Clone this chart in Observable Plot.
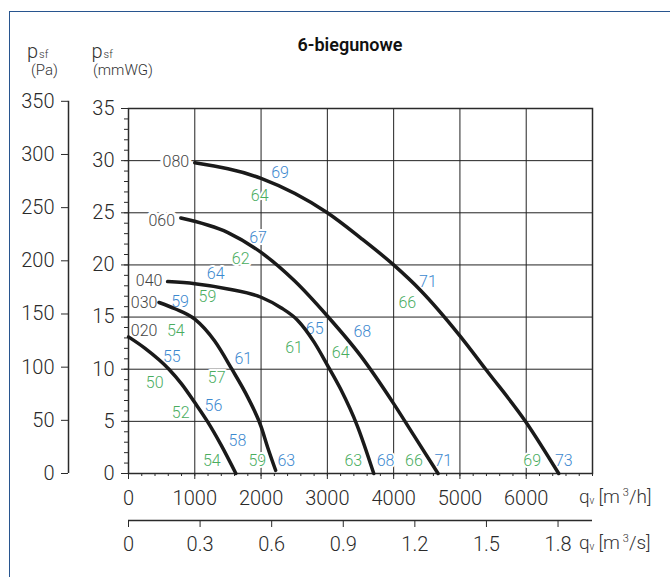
<!DOCTYPE html>
<html><head><meta charset="utf-8">
<script src="https://cdn.jsdelivr.net/npm/d3@7"></script>
<script src="https://cdn.jsdelivr.net/npm/@observablehq/plot@0.6"></script>
<style>
html,body{margin:0;padding:0;background:#fff;}
#wrap{position:relative;width:670px;height:577px;overflow:hidden;}
#border{position:absolute;left:9px;top:11px;right:-5px;bottom:-5px;border-top:1.5px solid #28558f;border-left:1.5px solid #28558f;pointer-events:none;}
</style></head><body><div id="wrap"><div id="chart"></div><div id="border"></div></div>
<script>
// ---- data (q in m3/h, p in mmWG) ----
const sizes = ["020", "030", "040", "060", "080"];
const q020 = [0, 250, 610, 800, 1000, 1190, 1400, 1620];
const p020 = [13.1, 12.0, 10.0, 8.6, 6.8, 5.0, 2.7, 0];
const q030 = [460, 700, 1000, 1300, 1560, 1800, 2000, 2100, 2220];
const p030 = [16.4, 15.8, 14.8, 12.7, 10.0, 7.3, 4.5, 2.5, 0.3];
const q040 = [590, 1000, 1500, 2000, 2300, 2550, 2800, 3000, 3200, 3450, 3700];
const p040 = [18.4, 18.2, 17.7, 16.9, 15.9, 14.7, 12.6, 10.4, 8.1, 4.6, 0];
const q060 = [790, 1500, 2000, 2500, 3000, 3500, 4000, 4300, 4670];
const p060 = [24.5, 23.1, 21.2, 18.5, 15.1, 11.3, 6.7, 3.7, 0];
const q080 = [1000, 2000, 3000, 3500, 4000, 4400, 5000, 5400, 6000, 6490];
const p080 = [29.8, 28.3, 25.0, 22.6, 20.0, 17.6, 13.2, 9.9, 4.9, 0];

const sizeLabelQ = [235, 235, 311, 502, 715];
const sizeLabelP = [13.7, 16.4, 18.5, 24.2, 29.9];

const blueText = ["69", "67", "64", "59", "55", "61", "65", "56", "58", "63", "68", "71", "68", "71", "73"];
const blueQ = [2286, 1954, 1316, 778, 653, 1733, 2809, 1281, 1643, 2381, 3528, 4517, 3879, 4749, 6567];
const blueP = [28.85, 22.6, 19.1, 16.5, 11.2, 11.0, 13.9, 6.5, 3.14, 1.22, 13.56, 18.4, 1.22, 1.22, 1.22];
const greenText = ["64", "62", "59", "54", "61", "64", "50", "57", "52", "54", "59", "63", "66", "66", "69"];
const greenQ = [1980, 1693, 1191, 713, 2497, 3201, 396, 1331, 788, 1256, 1944, 3392, 4206, 4306, 6091];
const greenP = [26.6, 20.55, 16.9, 13.7, 12.0, 11.6, 8.7, 9.2, 5.8, 1.22, 1.22, 1.22, 16.35, 1.22, 1.22];

const yTicks = [0, 5, 10, 15, 20, 25, 30, 35];
const paTicks = [0, 50, 100, 150, 200, 250, 300, 350];
const xTicks = [0, 1000, 2000, 3000, 4000, 5000, 6000];
const msTicks = [0, 0.3, 0.6, 0.9, 1.2, 1.5, 1.8];
const gridQ = [1000, 2000, 3000, 4000, 5000, 6000];
const gridP = [5, 10, 15, 20, 25, 30];

const G = 9.80665; // Pa per mmWG

const curveQ = {"020": q020, "030": q030, "040": q040, "060": q060, "080": q080};
const curveP = {"020": p020, "030": p030, "040": p040, "060": p060, "080": p080};
const curveRows = sizes.flatMap(s => curveQ[s].map((q, i) => ({size: s, q, p: curveP[s][i]})));
const sizeRows = sizes.map((s, i) => ({text: s, q: sizeLabelQ[i], p: sizeLabelP[i]}));
const blueRows = blueText.map((t, i) => ({text: t, q: blueQ[i], p: blueP[i]}));
const greenRows = greenText.map((t, i) => ({text: t, q: greenQ[i], p: greenP[i]}));

const BLUE = "#3d89cf", GREEN = "#4aad5f", INK = "#2a2a2a";
const fmtMs = d => { const v = d / 3600; return v === 0 ? "0" : v.toFixed(1); };
const tickFont = {fontSize: 20, fontWeight: 300, label: null, color: INK};

const chart = Plot.plot({
  width: 670, height: 577,
  marginLeft: 128, marginRight: 78, marginTop: 108, marginBottom: 104,
  x: {domain: [0, 7000], axis: null},
  y: {domain: [0, 35], axis: null},
  style: {fontFamily: "Roboto, sans-serif", color: INK, background: "white", overflow: "visible"},
  marks: [
    Plot.ruleX(gridQ, {stroke: "#222", strokeWidth: 1}),
    Plot.ruleY(gridP, {stroke: "#222", strokeWidth: 1}),
    Plot.text(sizeRows, {x: "q", y: "p", text: "text", fontSize: 16, fontWeight: 300, fill: "#444", stroke: "white", strokeWidth: 6}),
    Plot.text(blueRows, {x: "q", y: "p", text: "text", fontSize: 16, fontWeight: 300, fill: BLUE, stroke: "white", strokeWidth: 4}),
    Plot.text(greenRows, {x: "q", y: "p", text: "text", fontSize: 16, fontWeight: 300, fill: GREEN, stroke: "white", strokeWidth: 4}),
    Plot.frame({stroke: INK, strokeWidth: 1.5}),
    // mmWG axis
    Plot.axisY(yTicks, {anchor: "left", tickSize: 7, tickPadding: 7, ...tickFont}),
    Plot.axisY({anchor: "left", ticks: 35, tickSize: 4, tickFormat: () => "", label: null, color: INK}),
    // Pa axis
    Plot.ruleX([0], {y1: 0, y2: paTicks[paTicks.length - 1] / G, dx: -60, stroke: INK, strokeWidth: 1.5}),
    Plot.axisY(paTicks.map(v => v / G), {anchor: "left", dx: -60, tickSize: 7, tickPadding: 7, tickFormat: d => String(Math.round(d * G)), ...tickFont}),
    // m3/h axis
    Plot.axisX(xTicks, {anchor: "bottom", tickSize: 6, tickPadding: 11, tickFormat: d => String(d), ...tickFont}),
    Plot.axisX({anchor: "bottom", ticks: 35, tickSize: 3, tickFormat: () => "", label: null, color: INK}),
    // m3/s axis
    Plot.ruleY([0], {dy: 47, stroke: INK, strokeWidth: 1.5}),
    Plot.axisX(msTicks.map(v => v * 3600), {anchor: "bottom", dy: 47, tickSize: 7, tickPadding: 9, tickFormat: fmtMs, ...tickFont}),
    // curves
    Plot.line(curveRows, {x: "q", y: "p", z: "size", stroke: "#1a1a1a", strokeWidth: 3.5, curve: "monotone-x"})
  ]
});
document.getElementById("chart").appendChild(chart);

// annotations: title and axis titles
const svg = d3.select(chart);
const ann = svg.append("g").attr("font-family", "Roboto, sans-serif").attr("fill", "#333").attr("text-anchor", "start");
ann.append("text").attr("x", 350).attr("y", 51).attr("text-anchor", "middle")
  .attr("font-size", 18).attr("font-weight", 600).attr("fill", "#111").text("6-biegunowe");
function psf(x, unit, ux) {
  const t = ann.append("text").attr("x", x).attr("y", 58).attr("font-weight", 300);
  t.append("tspan").attr("font-size", 20).text("p");
  t.append("tspan").attr("font-size", 11).attr("dx", 1).text("sf");
  ann.append("text").attr("x", ux).attr("y", 75).attr("font-size", 15).attr("font-weight", 300).text(unit);
}
psf(27, "(Pa)", 31);
psf(91.5, "(mmWG)", 93);
function qv(y, unit) {
  const t = ann.append("text").attr("x", 579).attr("y", y).attr("font-weight", 300);
  t.append("tspan").attr("font-size", 19).text("q");
  t.append("tspan").attr("font-size", 10).attr("dy", 1).text("v");
  t.append("tspan").attr("font-size", 19).attr("dy", -1).attr("dx", 4).text("[m");
  t.append("tspan").attr("font-size", 11).attr("dy", -7).attr("dx", 3).text("3");
  t.append("tspan").attr("font-size", 19).attr("dy", 7).text(unit);
}
qv(503, "/h]");
qv(549, "/s]");
</script>
</body></html>
